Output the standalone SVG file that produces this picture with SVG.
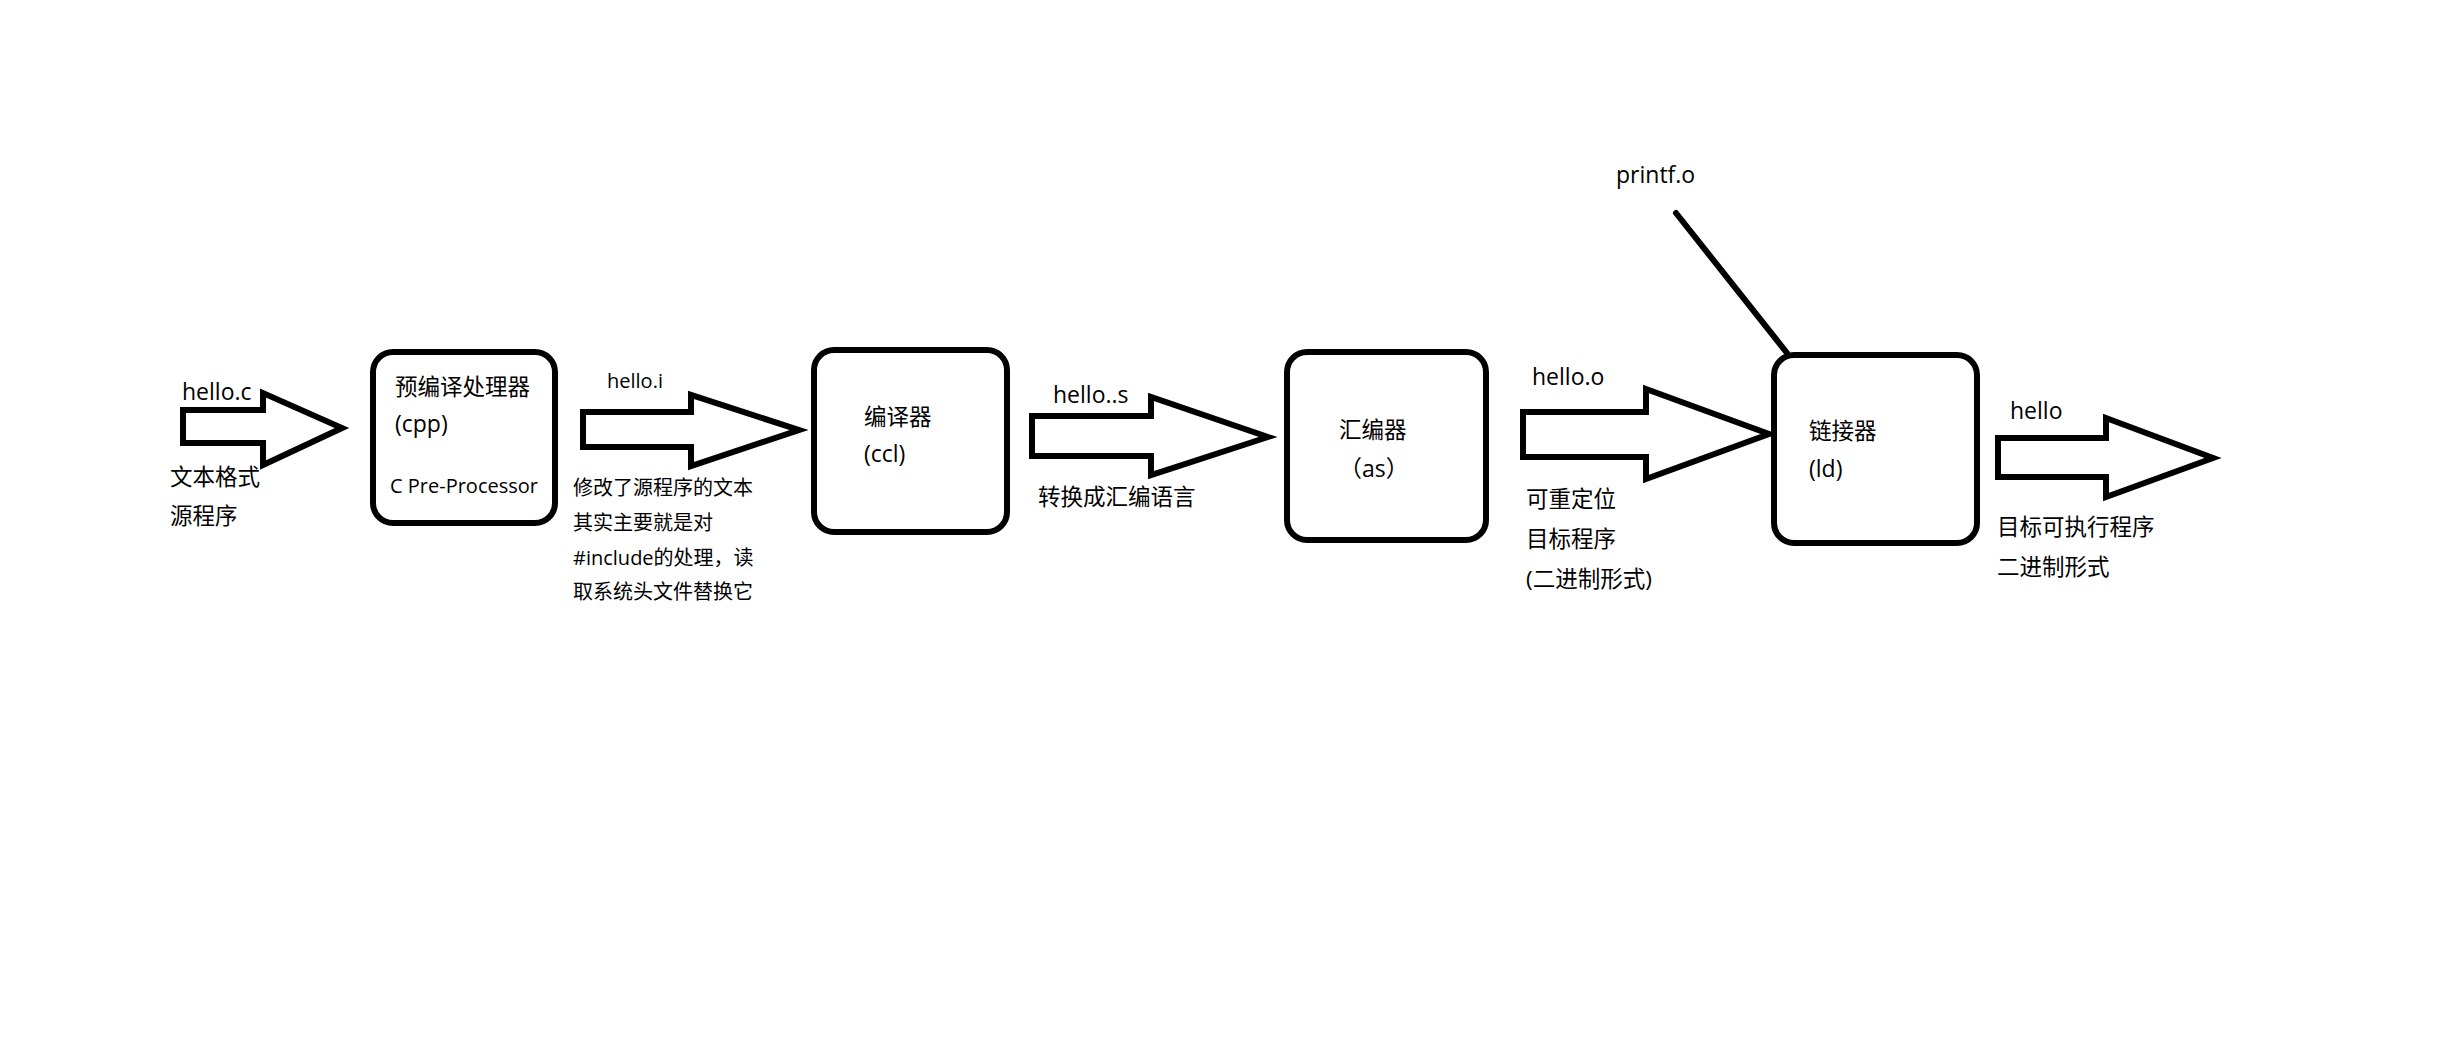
<svg xmlns="http://www.w3.org/2000/svg" width="2450" height="1054" viewBox="0 0 2450 1054">
<style>
.box{fill:#fff;stroke:#000;stroke-width:6}
.arr{fill:#fff;stroke:#000;stroke-width:6;stroke-linejoin:miter}
.ln{stroke:#000;stroke-width:6;stroke-linecap:round;fill:none}
text{font-family:"Open Sans","Noto Sans CJK SC",sans-serif;fill:#000}
.m{font-size:23px}
.s{font-size:22.5px}
.p{font-size:20px}
</style>
<rect width="2450" height="1054" fill="#fff"/>
<g id="connectors">
<polygon class="arr" points="183,410 263,410 263,393 342,428 263,465 263,443 183,443"/>
<polygon class="arr" points="583,412 691,412 691,395 799,430 691,466 691,447 583,447"/>
<polygon class="arr" points="1032,416 1151,416 1151,397 1268,437 1151,475 1151,456 1032,456"/>
<polygon class="arr" points="1523,412 1646,412 1646,389 1769,434 1646,479 1646,457 1523,457"/>
<polygon class="arr" points="1998,438 2106,438 2106,418 2213,458 2106,497 2106,477 1998,477"/>
<line class="ln" x1="1676" y1="213" x2="1787" y2="353"/>
</g>
<g id="src">
<text class="m" x="182" y="400">hello.c</text>
<text class="s" x="170" y="485">文本格式</text>
<text class="s" x="170" y="524">源程序</text>
</g>
<g id="cpp">
<rect class="box" x="373" y="352" width="182" height="171" rx="20"/>
<text class="s" x="395" y="395">预编译处理器</text>
<text class="m" x="395" y="432">(cpp)</text>
<text class="p" x="390" y="493">C Pre-Processor</text>
</g>
<g id="hello-i">
<text class="s" x="607" y="388" style="font-size:20px">hello.i</text>
<text class="p" x="573" y="495">修改了源程序的文本</text>
<text class="p" x="573" y="530">其实主要就是对</text>
<text class="p" x="573" y="565">#include的处理，读</text>
<text class="p" x="573" y="599">取系统头文件替换它</text>
</g>
<g id="ccl">
<rect class="box" x="814" y="350" width="193" height="182" rx="20"/>
<text class="s" x="864" y="425">编译器</text>
<text class="m" x="864" y="462">(ccl)</text>
</g>
<g id="hello-s">
<text class="m" x="1053" y="403">hello..s</text>
<text class="s" x="1038" y="505">转换成汇编语言</text>
</g>
<g id="as">
<rect class="box" x="1287" y="352" width="199" height="188" rx="20"/>
<text class="s" x="1339" y="438">汇编器</text>
<text class="m" x="1339" y="477">（as）</text>
</g>
<g id="hello-o">
<text class="m" x="1532" y="385">hello.o</text>
<text class="s" x="1526" y="507">可重定位</text>
<text class="s" x="1526" y="547">目标程序</text>
<text class="s" x="1526" y="587">(二进制形式)</text>
</g>
<g id="printf">
<text class="m" x="1616" y="183">printf.o</text>
</g>
<g id="ld">
<rect class="box" x="1774" y="355" width="203" height="188" rx="20"/>
<text class="s" x="1809" y="439">链接器</text>
<text class="m" x="1809" y="477">(ld)</text>
</g>
<g id="hello">
<text class="m" x="2010" y="419">hello</text>
<text class="s" x="1997" y="535">目标可执行程序</text>
<text class="s" x="1997" y="575">二进制形式</text>
</g>
</svg>
